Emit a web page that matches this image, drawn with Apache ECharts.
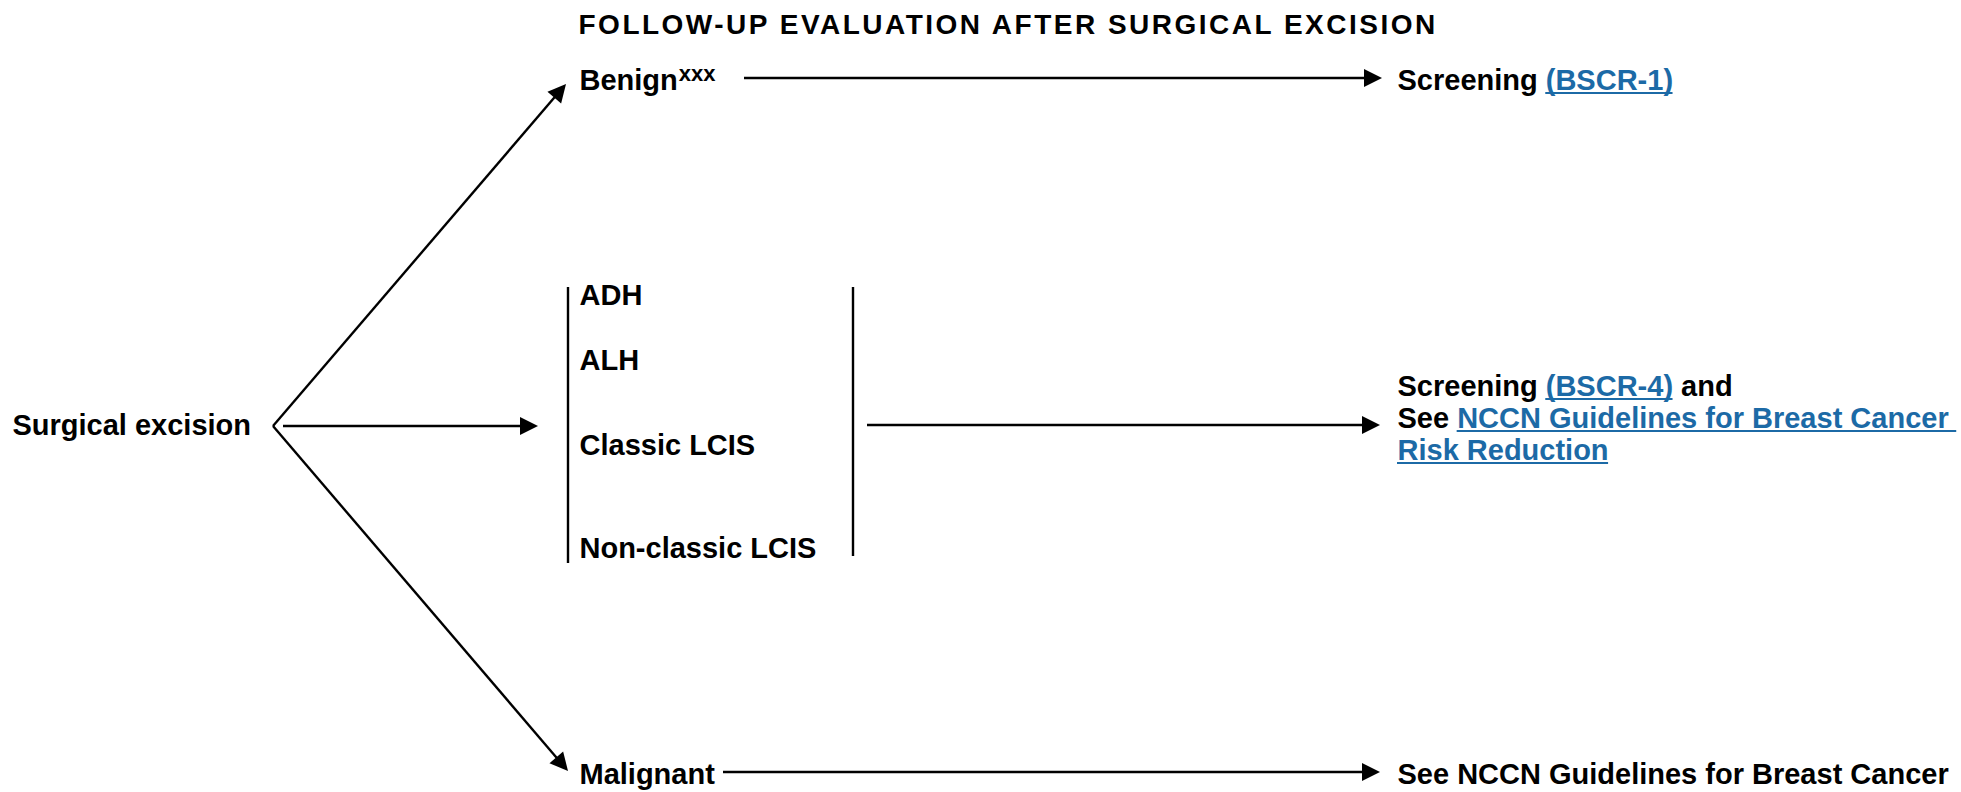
<!DOCTYPE html>
<html><head><meta charset="utf-8">
<script src="https://cdn.jsdelivr.net/npm/echarts@6/dist/echarts.min.js"></script>
<style>
html,body{margin:0;padding:0;background:#fff}
#chart{width:1961px;height:792px}
text[style*="28px"]{letter-spacing:2.5px}
</style>
</head><body><div id="chart"></div><script>
// ---------- content ----------
const titleText = 'FOLLOW-UP EVALUATION AFTER SURGICAL EXCISION';
const startLabel = 'Surgical excision';
const benignLabel = 'Benign';
const benignNote = 'xxx';
const atypiaLabels = ['ADH', 'ALH', 'Classic LCIS', 'Non-classic LCIS'];
const malignantLabel = 'Malignant';
const benignAction = ['Screening ', '(BSCR-1)'];
const atypiaAction1 = ['Screening ', '(BSCR-4)', ' and'];
const atypiaAction2 = ['See ', 'NCCN Guidelines for Breast Cancer'];
const atypiaAction3 = 'Risk Reduction';
const malignantAction = 'See NCCN Guidelines for Breast Cancer';

// ---------- styles ----------
const FONT = '"Liberation Sans", Arial, Helvetica, sans-serif';
const BODY = 29, TITLE = 28, SUP = 22, LH = 32;
const INK = '#000000', LINK = '#1c6aa6';
const ARROW = [13, 18];
const LW = 2.4;

// ---------- layout (pixel positions on a hidden 1961 x 792 grid) ----------
const P = {
  title: [578, 24],
  start: [12, 425],
  fork: [273, 426],
  benign: [579, 80],
  atypia: [[579, 295], [579, 360], [579, 445], [579, 548]],
  malignant: [579, 774],
  actBenign: [1397, 80],
  actAtypia: [1397, 418],
  actMalignant: [1397, 774],
  upTip: [566, 84],
  downTip: [568, 771],
  midFrom: [283, 426], midTip: [538, 426],
  bracketL: [[568, 287], [568, 563]],
  bracketR: [[853, 287], [853, 556]],
  benignFrom: [744, 78], benignTip: [1382, 78],
  atypiaFrom: [867, 425], atypiaTip: [1380, 425],
  malFrom: [723, 772], malTip: [1380, 772]
};

const mctx = document.createElement('canvas').getContext('2d');
function tw(t, size) { mctx.font = 'bold ' + size + 'px ' + FONT; return mctx.measureText(t).width; }

function arrow(from, tip) {
  const dx = tip[0] - from[0], dy = tip[1] - from[1];
  const k = (ARROW[1] / 2) / Math.hypot(dx, dy);
  return { coords: [from, [tip[0] - dx * k, tip[1] - dy * k]] };
}

const arrows = [
  arrow(P.fork, P.upTip),
  arrow(P.midFrom, P.midTip),
  arrow(P.fork, P.downTip),
  arrow(P.benignFrom, P.benignTip),
  arrow(P.atypiaFrom, P.atypiaTip),
  arrow(P.malFrom, P.malTip)
];
const plainLines = [{ coords: P.bracketL }, { coords: P.bracketR }];

// underlines for the linked references
const UL = 13;
const underlines = [];
(function () {
  let x0 = P.actBenign[0] + tw(benignAction[0], BODY);
  underlines.push({ coords: [[x0, P.actBenign[1] + UL], [x0 + tw(benignAction[1], BODY), P.actBenign[1] + UL]] });
  const y1 = P.actAtypia[1] - LH, y2 = P.actAtypia[1], y3 = P.actAtypia[1] + LH;
  x0 = P.actAtypia[0] + tw(atypiaAction1[0], BODY);
  underlines.push({ coords: [[x0, y1 + UL], [x0 + tw(atypiaAction1[1], BODY), y1 + UL]] });
  x0 = P.actAtypia[0] + tw(atypiaAction2[0], BODY);
  underlines.push({ coords: [[x0, y2 + UL], [x0 + tw(atypiaAction2[1] + ' ', BODY), y2 + UL]] });
  x0 = P.actAtypia[0];
  underlines.push({ coords: [[x0, y3 + UL], [x0 + tw(atypiaAction3, BODY), y3 + UL]] });
})();

const base = { fontFamily: FONT, fontWeight: 'bold', fontSize: BODY, color: INK };
const rich = {
  t: Object.assign({}, base),
  a: Object.assign({}, base, { color: LINK }),
  s: Object.assign({}, base, { fontSize: SUP, padding: [0, 0, 14, 1] }),
  h: Object.assign({}, base, { fontSize: TITLE }),
  m: Object.assign({}, base, { lineHeight: LH }),
  ma: Object.assign({}, base, { color: LINK, lineHeight: LH })
};

function item(pos, formatter) {
  return { value: pos, label: { formatter: formatter } };
}
const texts = [
  item(P.title, '{h|' + titleText + '}'),
  item(P.start, '{t|' + startLabel + '}'),
  item(P.benign, '{t|' + benignLabel + '}{s|' + benignNote + '}'),
  item(P.malignant, '{t|' + malignantLabel + '}'),
  item(P.actBenign, '{t|' + benignAction[0] + '}{a|' + benignAction[1] + '}'),
  item(P.actAtypia,
    '{m|' + atypiaAction1[0] + '}{ma|' + atypiaAction1[1] + '}{m|' + atypiaAction1[2] + '}\n' +
    '{m|' + atypiaAction2[0] + '}{ma|' + atypiaAction2[1] + '}\n' +
    '{ma|' + atypiaAction3 + '}'),
  item(P.actMalignant, '{t|' + malignantAction + '}')
].concat(atypiaLabels.map((l, i) => item(P.atypia[i], '{t|' + l + '}')));

const chart = echarts.init(document.getElementById('chart'), null, { renderer: 'svg' });
chart.setOption({
  animation: false,
  backgroundColor: '#ffffff',
  grid: { left: 0, right: 0, top: 0, bottom: 0 },
  xAxis: { type: 'value', min: 0, max: 1961, show: false },
  yAxis: { type: 'value', min: 0, max: 792, inverse: true, show: false },
  series: [
    {
      type: 'lines', coordinateSystem: 'cartesian2d', silent: true,
      symbol: ['none', 'triangle'], symbolSize: ARROW,
      lineStyle: { color: INK, width: LW, opacity: 1 },
      data: arrows
    },
    {
      type: 'lines', coordinateSystem: 'cartesian2d', silent: true,
      symbol: ['none', 'none'],
      lineStyle: { color: INK, width: LW, opacity: 1 },
      data: plainLines
    },
    {
      type: 'lines', coordinateSystem: 'cartesian2d', silent: true,
      symbol: ['none', 'none'],
      lineStyle: { color: LINK, width: 2, opacity: 1 },
      data: underlines
    },
    {
      type: 'scatter', silent: true, symbolSize: 1,
      itemStyle: { color: 'rgba(255,255,255,0)' },
      label: Object.assign({ show: true, position: 'right', distance: 0, opacity: 1, rich: rich }, base),
      data: texts
    }
  ]
});
</script></body></html>
